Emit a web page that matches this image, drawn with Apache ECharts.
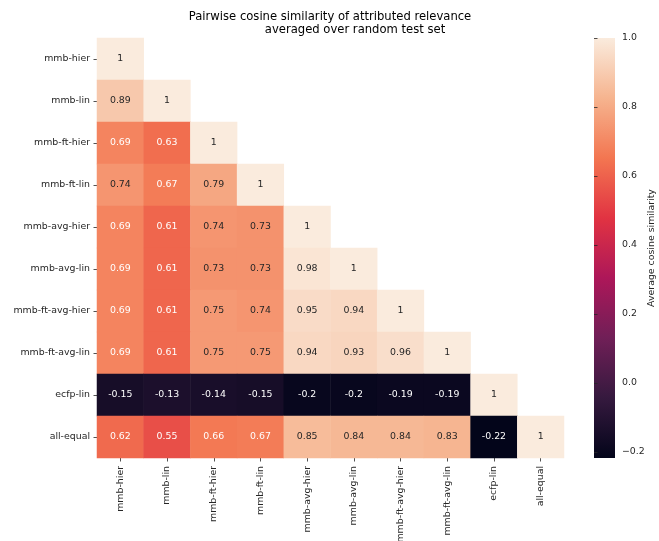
<!DOCTYPE html>
<html>
<head>
<meta charset="utf-8">
<script src="https://cdn.jsdelivr.net/npm/echarts@6/dist/echarts.min.js"></script>
<style>
  html, body { margin: 0; padding: 0; background: #fff; }
  #chart { width: 659px; height: 541px; }
</style>
</head>
<body>
<div id="chart"></div>
<script>
// Attribution methods compared pairwise
const methods = [
  'mmb-hier', 'mmb-lin', 'mmb-ft-hier', 'mmb-ft-lin', 'mmb-avg-hier',
  'mmb-avg-lin', 'mmb-ft-avg-hier', 'mmb-ft-avg-lin', 'ecfp-lin', 'all-equal'
];

// Lower triangle of the similarity matrix, one row per method
const rowMmbHier      = [1];
const rowMmbLin       = [0.89, 1];
const rowMmbFtHier    = [0.69, 0.63, 1];
const rowMmbFtLin     = [0.74, 0.67, 0.79, 1];
const rowMmbAvgHier   = [0.69, 0.61, 0.74, 0.73, 1];
const rowMmbAvgLin    = [0.69, 0.61, 0.73, 0.73, 0.98, 1];
const rowMmbFtAvgHier = [0.69, 0.61, 0.75, 0.74, 0.95, 0.94, 1];
const rowMmbFtAvgLin  = [0.69, 0.61, 0.75, 0.75, 0.94, 0.93, 0.96, 1];
const rowEcfpLin      = [-0.15, -0.13, -0.14, -0.15, -0.2, -0.2, -0.19, -0.19, 1];
const rowAllEqual     = [0.62, 0.55, 0.66, 0.67, 0.85, 0.84, 0.84, 0.83, -0.22, 1];

const rows = [
  rowMmbHier, rowMmbLin, rowMmbFtHier, rowMmbFtLin, rowMmbAvgHier,
  rowMmbAvgLin, rowMmbFtAvgHier, rowMmbFtAvgLin, rowEcfpLin, rowAllEqual
];

// Colour scale range and colour bar ticks
const scaleMin = -0.218;
const scaleMax = 1.0;
const colorbarTicks = [-0.2, 0.0, 0.2, 0.4, 0.6, 0.8, 1.0];

// "rocket" colour map, evenly spaced stops from low to high
const rocket = ['#03051a', '#35193e', '#701f57', '#ad1759', '#e13342', '#f37651', '#f6b48f', '#faebdd'];

const font = 'DejaVu Sans';
const textDark = '#262626';

const heatData = [];
rows.forEach((row, i) => {
  row.forEach((v, j) => {
    heatData.push({
      value: [j, i, v],
      label: { color: v < 0.71 ? '#ffffff' : textDark }
    });
  });
});

const gradStops = rocket.slice().reverse().map((c, k, arr) => ({ offset: k / (arr.length - 1), color: c }));

const chart = echarts.init(document.getElementById('chart'), null, { renderer: 'canvas' });

chart.setOption({
  animation: false,
  backgroundColor: '#ffffff',
  grid: [
    { left: 97, top: 38, width: 467, height: 420, outerBoundsMode: 'none', containLabel: false },
    { left: 594, top: 38, width: 21, height: 420, outerBoundsMode: 'none', containLabel: false }
  ],
  xAxis: [
    {
      type: 'category', gridIndex: 0, data: methods, position: 'bottom',
      axisLine: { show: false },
      axisTick: { show: true, alignWithLabel: true, length: 3.5, lineStyle: { color: '#262626', width: 0.8 } },
      axisLabel: { rotate: 90, interval: 0, margin: 8, fontSize: 9.4, fontFamily: font, color: textDark },
      splitLine: { show: false }
    },
    { type: 'value', gridIndex: 1, show: false, min: 0, max: 1 }
  ],
  yAxis: [
    {
      type: 'category', gridIndex: 0, data: methods, inverse: true,
      axisLine: { show: false },
      axisTick: { show: true, alignWithLabel: true, length: 3.5, lineStyle: { color: '#262626', width: 0.8 } },
      axisLabel: { interval: 0, margin: 7, fontSize: 9.4, fontFamily: font, color: textDark },
      splitLine: { show: false }
    },
    {
      type: 'value', gridIndex: 1, position: 'right', min: scaleMin, max: scaleMax,
      axisLine: { show: false },
      axisTick: { show: true, length: 3.5, customValues: colorbarTicks, lineStyle: { color: '#262626', width: 0.8 } },
      axisLabel: {
        margin: 7, fontSize: 9.4, fontFamily: font, color: textDark,
        customValues: colorbarTicks,
        formatter: v => (v < 0 ? '\u2212' : '') + Math.abs(v).toFixed(1)
      },
      splitLine: { show: false }
    }
  ],
  visualMap: {
    type: 'continuous', show: false, seriesIndex: 0,
    min: scaleMin, max: scaleMax, dimension: 2,
    inRange: { color: rocket }
  },
  graphic: [
    {
      type: 'rect', shape: { x: 594, y: 38, width: 21, height: 420 },
      style: { fill: new echarts.graphic.LinearGradient(0, 0, 0, 1, gradStops) },
      z: -1
    },
    {
      type: 'text', x: 330, y: 17,
      style: { text: 'Pairwise cosine similarity of attributed relevance', textAlign: 'center', textVerticalAlign: 'middle', font: '11.6px "DejaVu Sans"', fill: '#000' }
    },
    {
      type: 'text', x: 355, y: 30,
      style: { text: 'averaged over random test set', textAlign: 'center', textVerticalAlign: 'middle', font: '11.6px "DejaVu Sans"', fill: '#000' }
    },
    {
      type: 'text', x: 652, y: 248, rotation: Math.PI / 2,
      style: { text: 'Average cosine similarity', textAlign: 'center', textVerticalAlign: 'middle', font: '9.4px "DejaVu Sans"', fill: textDark }
    }
  ],
  series: [
    {
      type: 'heatmap', xAxisIndex: 0, yAxisIndex: 0,
      data: heatData,
      label: {
        show: true, fontSize: 9.4, fontFamily: font,
        formatter: p => String(p.value[2])
      },
      itemStyle: { borderWidth: 0 },
      emphasis: { disabled: true }
    }
  ]
});
</script>
</body>
</html>
